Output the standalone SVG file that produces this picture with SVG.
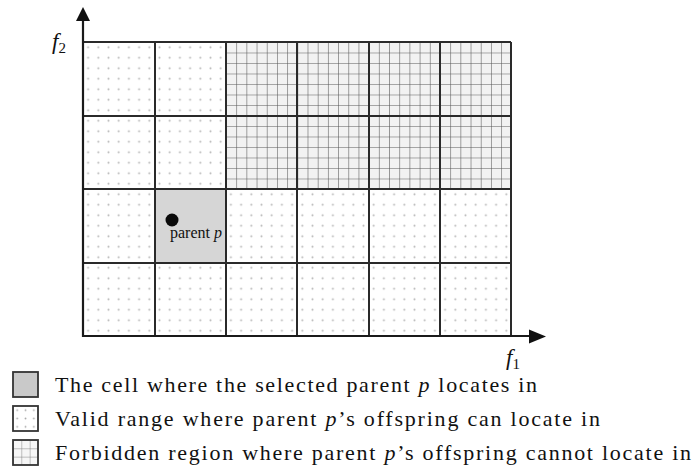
<svg xmlns="http://www.w3.org/2000/svg" width="694" height="474" viewBox="0 0 694 474">
<style>
.cell{stroke:none}
.valid{fill:url(#dots)}
.forb{fill:url(#hatch)}
.gl{stroke:#2a2a2a;stroke-width:2;fill:none}
.ax{stroke:#1a1a1a;stroke-width:2.2;fill:none}
.lbl{font-family:"Liberation Serif","Times New Roman",serif;fill:#111}
.box{stroke:#333;stroke-width:1.8}
</style>
<defs>
<pattern id="dots" patternUnits="userSpaceOnUse" x="83" y="42" width="10.2" height="10.5">
<rect width="10.2" height="10.5" fill="#fff"/>
<circle cx="5.1" cy="5.25" r="1" fill="#b5b5b5"/>
</pattern>
<pattern id="hatch" patternUnits="userSpaceOnUse" x="226" y="42" width="10.19" height="10.5">
<rect width="10.19" height="10.5" fill="#f2f2f2"/>
<path d="M0 0V10.5M0 0H10.19" stroke="#555" stroke-width="1.1"/>
</pattern>
<pattern id="ldots" patternUnits="userSpaceOnUse" x="13" y="406" width="8.33" height="8.33">
<rect width="8.33" height="8.33" fill="#fff"/>
<circle cx="4.2" cy="4.2" r="0.9" fill="#aaa"/>
</pattern>
<pattern id="lhatch" patternUnits="userSpaceOnUse" x="13" y="440" width="8.33" height="8.33">
<rect width="8.33" height="8.33" fill="#f6f6f6"/>
<path d="M0 0V8.33M0 0H8.33" stroke="#777" stroke-width="0.9"/>
</pattern>
</defs>

<g id="grid-valid">
<rect class="cell valid" x="83" y="42" width="143" height="147"/>
<rect class="cell valid" x="83" y="189" width="72" height="74"/>
<rect class="cell valid" x="226" y="189" width="285" height="74"/>
<rect class="cell valid" x="83" y="263" width="428" height="73"/>
</g>
<g id="grid-forbidden">
<rect class="cell forb" x="226" y="42" width="285" height="147"/>
</g>
<g id="parent-cell">
<rect x="155" y="189" width="71" height="74" fill="#d6d6d6"/>
</g>

<g id="grid-lines">
<path class="gl" d="M83 42H511M83 116H511M83 189H511M83 263H511M155 42V336M226 42V336M297 42V336M369 42V336M440 42V336M511 42V336"/>
</g>

<g id="axes">
<path class="ax" d="M83 20V336H530"/>
<polygon points="83,7 76,21 90,21" fill="#111"/>
<polygon points="546,336.5 529,329.5 529,343.5" fill="#111"/>
<text class="lbl" x="52" y="49" font-size="23" font-style="italic">f<tspan font-size="15" font-style="normal" dy="4">2</tspan></text>
<text class="lbl" x="506" y="365" font-size="23" font-style="italic">f<tspan font-size="15" font-style="normal" dy="4">1</tspan></text>
</g>

<g id="parent">
<circle cx="172" cy="220" r="6.5" fill="#0a0a0a"/>
<text class="lbl" x="170" y="238" font-size="16">parent <tspan font-style="italic">p</tspan></text>
</g>

<g id="legend">
<rect class="box" x="13" y="372" width="25" height="25" fill="#c9c9c9"/>
<rect class="box" x="13" y="406" width="25" height="25" fill="url(#ldots)"/>
<rect class="box" x="13" y="440" width="25" height="25" fill="url(#lhatch)"/>
<text class="lbl" x="55" y="392" font-size="22" textLength="482" lengthAdjust="spacing">The cell where the selected parent <tspan font-style="italic">p</tspan> locates in</text>
<text class="lbl" x="55" y="426" font-size="22" textLength="545" lengthAdjust="spacing">Valid range where parent <tspan font-style="italic">p</tspan>’s offspring can locate in</text>
<text class="lbl" x="55" y="460" font-size="22" textLength="636" lengthAdjust="spacing">Forbidden region where parent <tspan font-style="italic">p</tspan>’s offspring cannot locate in</text>
</g>
</svg>
